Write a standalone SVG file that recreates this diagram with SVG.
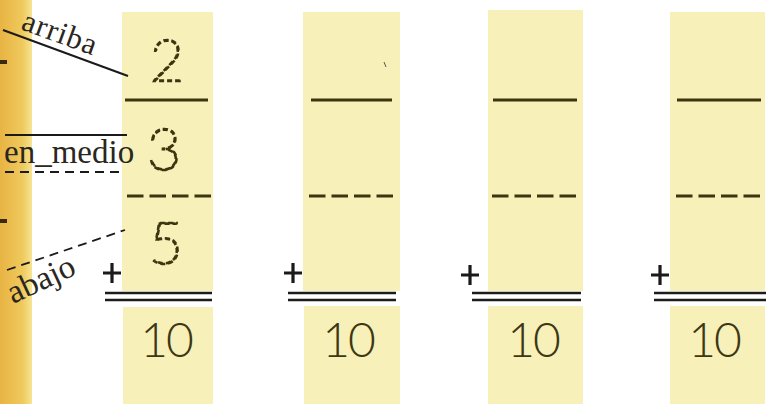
<svg xmlns="http://www.w3.org/2000/svg" width="773" height="404" viewBox="0 0 773 404">
<defs>
<linearGradient id="orange" x1="0" y1="0" x2="1" y2="0">
<stop offset="0" stop-color="#e8b444"/>
<stop offset="0.7" stop-color="#efc95c"/>
<stop offset="1" stop-color="#f6e594"/>
</linearGradient>
<style>
.col{fill:#f7f0b8}
.rule{stroke:#3b3510;stroke-width:3;fill:none}
.dash{stroke:#3b3510;stroke-width:3.2;fill:none;stroke-dasharray:16.5 6}
.dbl{stroke:#1c1c1c;stroke-width:2.4;fill:none}
.plus{stroke:#1a1a1a;stroke-width:3.2;fill:none}
.sum{font-family:Lato,"Liberation Sans",sans-serif;font-weight:300;font-size:48px;letter-spacing:-2px;fill:#3d3714;text-anchor:middle}
.trace{font-family:Lato,Inter,"Liberation Sans",sans-serif;font-weight:100;font-size:58px;fill:none;stroke:#3b3510;stroke-width:2.6;stroke-dasharray:5 3;text-anchor:middle}
.lbl{font-family:"Liberation Serif",serif;fill:#2a2620}
.lead{stroke:#1a1a1a;stroke-width:2;fill:none}
.leaddash{stroke:#1a1a1a;stroke-width:1.8;fill:none;stroke-dasharray:9 6}
</style>
</defs>
<rect width="773" height="404" fill="#ffffff"/>
<g id="margin">
<rect x="0" y="0" width="32" height="404" fill="url(#orange)"/>
<rect x="0" y="60" width="7" height="4" fill="#3a2a10"/>
<rect x="0" y="219" width="7" height="4" fill="#3a2a10"/>
</g>
<g id="column1">
<rect class="col" x="122" y="12" width="91" height="279"/>
<rect class="col" x="123" y="307" width="90" height="97"/>
<text class="trace" x="167" y="81">2</text>
<line class="rule" x1="125" y1="100" x2="208" y2="100"/>
<text class="trace" x="164" y="170">3</text>
<line class="dash" x1="127" y1="196" x2="211" y2="196"/>
<text class="trace" x="166" y="264">5</text>
<path class="plus" d="M103 273H121M112 263V283"/>
<line class="dbl" x1="105" y1="293" x2="212" y2="293"/>
<line class="dbl" x1="105" y1="300" x2="212" y2="300"/>
<text class="sum" x="166" y="357">10</text>
</g>
<g id="column2">
<rect class="col" x="303" y="12" width="97" height="279"/>
<rect class="col" x="304" y="306" width="96" height="98"/>
<line class="rule" x1="311" y1="100" x2="392" y2="100"/>
<line class="dash" x1="309" y1="196" x2="393" y2="196"/>
<path class="plus" d="M284 273H302M293 263V283"/>
<line class="dbl" x1="288" y1="293" x2="396" y2="293"/>
<line class="dbl" x1="288" y1="300" x2="396" y2="300"/>
<text class="sum" x="348" y="357">10</text>
<line x1="384" y1="62" x2="386" y2="67" stroke="#555" stroke-width="1"/>
</g>
<g id="column3">
<rect class="col" x="488" y="10" width="95" height="281"/>
<rect class="col" x="488" y="306" width="95" height="98"/>
<line class="rule" x1="493" y1="100" x2="577" y2="100"/>
<line class="dash" x1="492" y1="196" x2="578" y2="196"/>
<path class="plus" d="M461 275H479M470 265V285"/>
<line class="dbl" x1="472" y1="293" x2="581" y2="293"/>
<line class="dbl" x1="472" y1="300" x2="581" y2="300"/>
<text class="sum" x="533" y="357">10</text>
</g>
<g id="column4">
<rect class="col" x="670" y="12" width="95" height="279"/>
<rect class="col" x="670" y="306" width="95" height="98"/>
<line class="rule" x1="677" y1="100" x2="761" y2="100"/>
<line class="dash" x1="676" y1="196" x2="764" y2="196"/>
<path class="plus" d="M651 275H669M660 265V285"/>
<line class="dbl" x1="654" y1="293" x2="766" y2="293"/>
<line class="dbl" x1="654" y1="300" x2="766" y2="300"/>
<text class="sum" x="714" y="357">10</text>
</g>
<g id="label-arriba">
<text class="lbl" font-size="31" letter-spacing="1" transform="translate(20 29) rotate(20)">arriba</text>
</g>
<g id="label-en-medio">
<text class="lbl" font-size="33" x="4" y="163">en_medio</text>
</g>
<g id="label-abajo">
<text class="lbl" font-size="33" transform="translate(13 304) rotate(-25)">abajo</text>
</g>
<g id="connectors">
<line class="lead" x1="3" y1="30" x2="128" y2="76"/>
<line class="lead" x1="5" y1="135" x2="127" y2="135"/>
<line class="leaddash" x1="5" y1="172" x2="125" y2="172"/>
<line class="leaddash" x1="7" y1="270" x2="125" y2="230"/>
</g>
</svg>
